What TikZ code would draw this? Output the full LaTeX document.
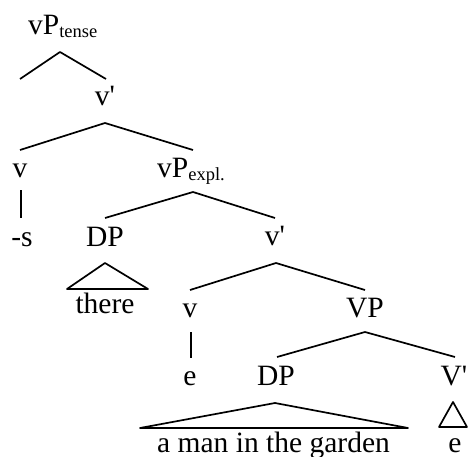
\documentclass[tikz,border=0pt]{standalone}
\usepackage{fontspec}
\setmainfont{Liberation Serif}
\newcommand{\subtxt}[1]{\raisebox{-3pt}{\fontsize{18.5}{19}\selectfont #1}}
\newcommand{\pr}{\textquotesingle}
\begin{document}
\begin{tikzpicture}[x=1pt,y=-1pt,
  lab/.style={inner sep=0pt,anchor=base,font=\fontsize{29.5}{30}\selectfont},
  branch/.style={line width=1.7pt,line join=round}]
\useasboundingbox (0,0) rectangle (468,457);
% labels
\node[lab,anchor=base west] (vPt) at (28,35) {vP\subtxt{tense}};
\node[lab] (vb1) at (105,106) {v\pr};
\node[lab] (v1) at (20,178) {v};
\node[lab] (s) at (22,246) {-s};
\node[lab,anchor=base west] (vPe) at (157,178) {vP\subtxt{expl.}};
\node[lab] (DP1) at (105,246) {DP};
\node[lab] (there) at (105,313) {there};
\node[lab] (vb2) at (275,245) {v\pr};
\node[lab] (v2) at (190,317) {v};
\node[lab] (VP) at (365,317) {VP};
\node[lab] (e1) at (190,385) {e};
\node[lab] (DP2) at (276,385) {DP};
\node[lab] (Vb) at (454,385) {V\pr};
\node[lab,anchor=base west] (man) at (157,452) {a man in the garden};
\node[lab] (e2) at (455,452) {e};
% branch points
\coordinate (a1) at (60,52);
\coordinate (a1l) at (20,79);
\coordinate (a1r) at (106,79);
\coordinate (a2) at (105,123);
\coordinate (a2l) at (20,150);
\coordinate (a2r) at (193,150);
\coordinate (a3) at (193,192);
\coordinate (a3l) at (105,218);
\coordinate (a3r) at (275,218);
\coordinate (a4) at (276,263);
\coordinate (a4l) at (190,290);
\coordinate (a4r) at (365,290);
\coordinate (a5) at (365,332);
\coordinate (a5l) at (277,357);
\coordinate (a5r) at (455,357);
\coordinate (u1) at (21,190);
\coordinate (u1b) at (21,218);
\coordinate (u2) at (191,332);
\coordinate (u2b) at (191,358);
\coordinate (t1) at (105,263);
\coordinate (t1l) at (67,289);
\coordinate (t1r) at (148,289);
\coordinate (t2) at (275,403);
\coordinate (t2l) at (140,428);
\coordinate (t2r) at (408,428);
\coordinate (t3) at (453,402);
\coordinate (t3l) at (439,427);
\coordinate (t3r) at (467,427);
% branches
\draw[branch] (a1l) -- (a1) -- (a1r);
\draw[branch] (a2l) -- (a2) -- (a2r);
\draw[branch] (a3l) -- (a3) -- (a3r);
\draw[branch] (a4l) -- (a4) -- (a4r);
\draw[branch] (a5l) -- (a5) -- (a5r);
\draw[branch] (u1) -- (u1b);
\draw[branch] (u2) -- (u2b);
\draw[branch] (t1) -- (t1l) -- (t1r) -- cycle;
\draw[branch] (t2) -- (t2l) -- (t2r) -- cycle;
\draw[branch] (t3) -- (t3l) -- (t3r) -- cycle;
\end{tikzpicture}
\end{document}
